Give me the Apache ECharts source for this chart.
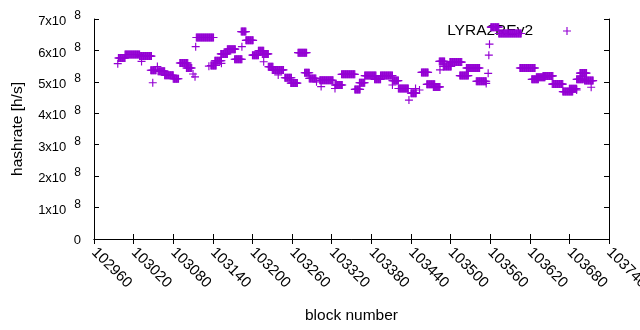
<!DOCTYPE html>
<html>
<head>
<meta charset="utf-8">
<script src="https://cdn.jsdelivr.net/npm/echarts@6/dist/echarts.min.js"></script>
<style>
    html, body { margin: 0; padding: 0; background: #fff; }
    #chart { width: 640px; height: 330px; }
</style>
</head>
<body>
<div id="chart"></div>
<script>
// Runs of blocks with the same hashrate (first block, last block, value in 1e8 h/s)
const runStart = [102997, 103007, 103029, 103046, 103057, 103067, 103080, 103090, 103100, 103115,
    103137, 103143, 103152, 103162, 103173, 103183, 103190, 103200, 103209, 103215,
    103224, 103230, 103249, 103258, 103269, 103279, 103286, 103302, 103325, 103335,
    103355, 103362, 103370, 103385, 103394, 103412, 103421, 103440, 103456, 103464,
    103474, 103483, 103489, 103499, 103514, 103524, 103539, 103561, 103573, 103605,
    103623, 103630, 103640, 103654, 103670, 103680, 103691, 103696, 103703];
const runEnd = [103007, 103029, 103047, 103054, 103067, 103080, 103088, 103102, 103108, 103141,
    103145, 103153, 103162, 103174, 103184, 103190, 103201, 103209, 103217, 103224,
    103231, 103247, 103259, 103268, 103282, 103286, 103296, 103322, 103336, 103355,
    103363, 103370, 103387, 103394, 103412, 103421, 103436, 103448, 103466, 103476,
    103484, 103491, 103501, 103517, 103527, 103544, 103554, 103573, 103607, 103628,
    103633, 103643, 103655, 103670, 103685, 103691, 103701, 103706, 103716];
const runValue = [5.76, 5.87, 5.82, 5.37, 5.34, 5.21, 5.10, 5.60, 5.44, 6.41,
    5.52, 5.67, 5.89, 6.04, 5.72, 6.60, 6.32, 5.85, 5.99, 5.89,
    5.48, 5.38, 5.13, 4.96, 5.93, 5.29, 5.11, 5.05, 4.90, 5.24,
    4.76, 4.97, 5.20, 5.08, 5.20, 5.04, 4.79, 4.64, 5.30, 4.92,
    4.84, 5.65, 5.49, 5.63, 5.20, 5.44, 5.02, 6.74, 6.54, 5.44,
    5.08, 5.15, 5.19, 4.93, 4.69, 4.78, 5.08, 5.28, 5.04];

// Single blocks off the runs
const pointBlock = [102996, 103032, 103049, 103056, 103110, 103113, 103114, 103134, 103153, 103184,
    103217, 103239, 103297, 103304, 103325, 103412, 103437, 103447, 103453, 103484,
    103554, 103557, 103558, 103559, 103691, 103713];
const pointValue = [5.58, 5.65, 4.97, 5.49, 5.25, 5.16, 6.12, 5.50, 5.59, 6.12,
    5.64, 5.22, 5.00, 4.85, 4.79, 4.90, 4.42, 4.79, 4.74, 5.38,
    4.95, 5.27, 5.85, 6.20, 4.74, 4.83];

const seriesName = 'LYRA2REv2';
const purple = '#9400d3';
const font = 'Liberation Sans';
const plus = 'path://M30,0h10v30h30v10h-30v30h-10v-30h-30v-10h30z';

const points = [];
runStart.forEach(function (s, i) {
    for (let b = s; b <= runEnd[i]; b++) points.push([b, runValue[i] * 1e8]);
});
pointBlock.forEach(function (b, i) {
    points.push([b, pointValue[i] * 1e8]);
});

const chart = echarts.init(document.getElementById('chart'));

const xBase = {
    type: 'value',
    min: 102960,
    max: 103740,
    interval: 60,
    axisLine: { lineStyle: { color: '#000', width: 1 } },
    axisTick: { inside: true, length: 5, lineStyle: { color: '#000' } },
    splitLine: { show: false }
};
const yBase = {
    type: 'value',
    min: 0,
    max: 7e8,
    interval: 1e8,
    axisLine: { show: true, lineStyle: { color: '#000', width: 1 } },
    axisTick: { show: true, inside: true, length: 5, lineStyle: { color: '#000' } },
    splitLine: { show: false }
};

chart.setOption({
    animation: false,
    textStyle: { fontFamily: font },
    grid: { left: 94, right: 31, top: 19, bottom: 91, outerBoundsMode: 'none', containLabel: false },
    legend: {
        right: 69,
        top: 23,
        padding: 0,
        z: 0,
        align: 'right',
        itemWidth: 8,
        itemHeight: 8,
        icon: plus,
        itemStyle: { color: purple },
        textStyle: { fontFamily: font, fontSize: 15.5, color: '#000', padding: [0, 25, 0, 0] },
        data: [seriesName]
    },
    xAxis: [
        Object.assign({}, xBase, {
            position: 'bottom',
            name: 'block number',
            nameLocation: 'middle',
            nameGap: 69,
            nameTextStyle: { fontSize: 15.5, color: '#000', fontFamily: font },
            axisLabel: {
                rotate: -45,
                margin: 11,
                color: '#000',
                fontSize: 15,
                fontFamily: font,
                showMaxLabel: true,
                hideOverlap: false,
                formatter: function (v) { return String(v); }
            }
        }),
        Object.assign({}, xBase, { position: 'top', axisLabel: { show: false } })
    ],
    yAxis: [
        Object.assign({}, yBase, {
            position: 'left',
            name: 'hashrate [h/s]',
            nameLocation: 'middle',
            nameGap: 68,
            nameTextStyle: { fontSize: 15.5, color: '#000', fontFamily: font },
            axisLabel: {
                margin: 13,
                color: '#000',
                formatter: function (v) {
                    if (v === 0) return '{a|0}';
                    return '{a|' + Math.round(v / 1e8) + 'x10}{s|8}';
                },
                rich: {
                    a: { fontSize: 13, fontFamily: font, color: '#000', verticalAlign: 'bottom', padding: [3, 0, 0, 0] },
                    s: { fontSize: 12, fontFamily: font, color: '#000', padding: [0, 0, 6, 8], verticalAlign: 'top' }
                }
            }
        }),
        Object.assign({}, yBase, { position: 'right', axisLabel: { show: false } })
    ],
    series: [{
        name: seriesName,
        type: 'scatter',
        xAxisIndex: 0,
        yAxisIndex: 0,
        symbol: plus,
        symbolSize: 8,
        itemStyle: { color: purple, opacity: 1 },
        emphasis: { disabled: true },
        data: points
    }]
});

window.addEventListener('resize', function () {
    chart.resize();
});
</script>
</body>
</html>
